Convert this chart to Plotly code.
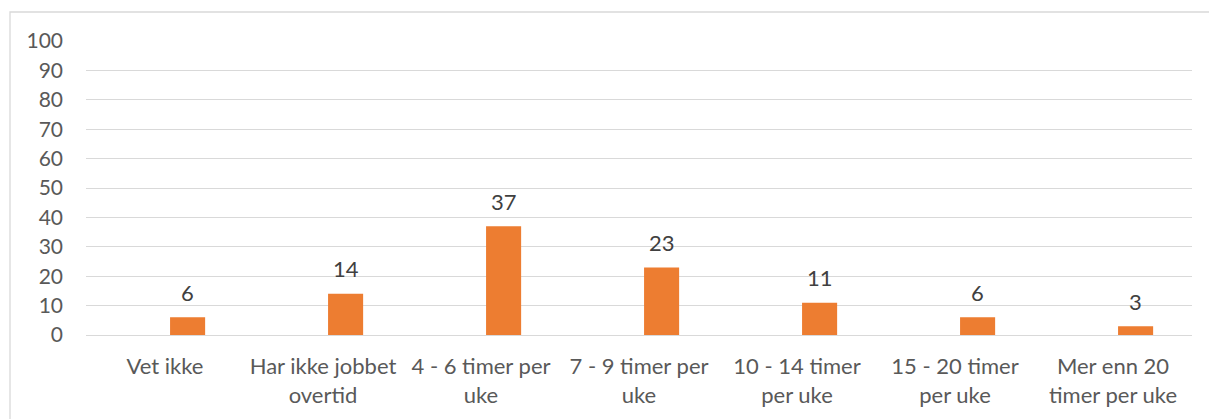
import plotly.graph_objects as go

categories = [
    "Vet ikke",
    "Har ikke jobbet<br>overtid",
    "4 - 6 timer per<br>uke",
    "7 - 9 timer per<br>uke",
    "10 - 14 timer<br>per uke",
    "15 - 20 timer<br>per uke",
    "Mer enn 20<br>timer per uke",
]
values = [6, 14, 37, 23, 11, 6, 3]
y_ticks = [0, 10, 20, 30, 40, 50, 60, 70, 80, 90, 100]

W, H = 1209, 419
ML, MR, MT, MB = 86, 17, 41, 84
plot_w = W - ML - MR
plot_h = H - MT - MB

text_color = "#595959"
label_color = "#404040"
grid_color = "#D9D9D9"
bar_color = "#ED7D31"
font_family = "Lato, 'Open Sans', sans-serif"

fig = go.Figure()
fig.add_trace(go.Bar(
    x=categories,
    y=values,
    marker=dict(color=bar_color, line=dict(width=0)),
    width=0.222,
    offset=0.032,
    hoverinfo="x+y",
))

# value labels above each bar, centred on the (offset) bar
bar_center_shift = (0.032 + 0.111) * plot_w / len(categories)
for c, v in zip(categories, values):
    fig.add_annotation(
        x=c, y=v, text=str(v), showarrow=False,
        xshift=bar_center_shift, yshift=25,
        font=dict(size=22, color=label_color, family=font_family),
    )

# outer chart frame
fig.add_shape(
    type="rect", xref="paper", yref="paper",
    x0=(10 - ML) / plot_w, x1=(W + 5 - ML) / plot_w,
    y0=-(H + 5 - MT - plot_h) / plot_h, y1=1 + (MT - 12) / plot_h,
    line=dict(color=grid_color, width=1.3), layer="below",
)

fig.update_layout(
    width=W, height=H,
    margin=dict(l=ML, r=MR, t=MT, b=MB),
    paper_bgcolor="white", plot_bgcolor="white",
    showlegend=False,
    font=dict(family=font_family, size=22, color=text_color),
    xaxis=dict(
        type="category", showgrid=False, showline=False, ticks="",
        automargin=False,
        tickfont=dict(size=22, color=text_color), ticklabelstandoff=16,
    ),
    yaxis=dict(
        range=[0, 100], tickvals=y_ticks, showgrid=True,
        gridcolor=grid_color, gridwidth=1.3, zeroline=True,
        zerolinecolor=grid_color, zerolinewidth=1.3,
        showline=False, ticks="", ticklabelstandoff=22,
        automargin=False,
        tickfont=dict(size=21, color=text_color),
    ),
)

fig.write_html("out.html")
